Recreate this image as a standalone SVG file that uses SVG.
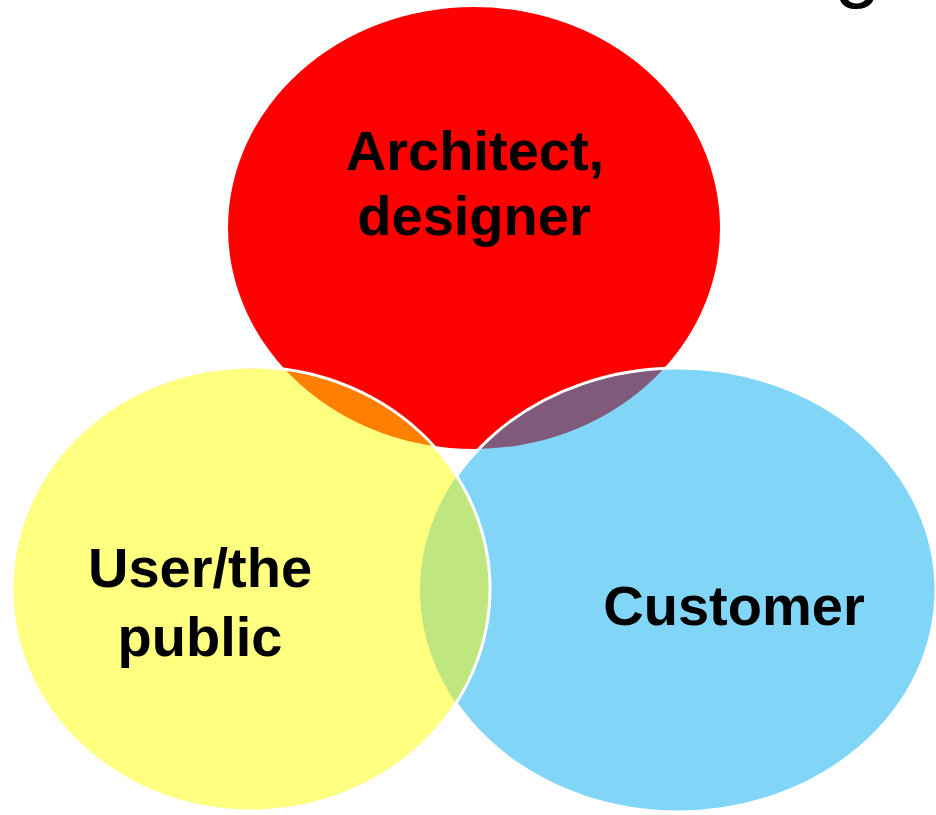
<svg xmlns="http://www.w3.org/2000/svg" width="936" height="815" viewBox="0 0 936 815">
  <style>
    .label { font-family: "Liberation Sans", Arial, sans-serif; font-weight: bold; font-size: 56px; fill: #000; text-anchor: middle; }
    .edge { fill: none; stroke: #fff; stroke-width: 3; }
  </style>
  <defs>
    <ellipse id="shape-red" cx="474" cy="228" rx="246" ry="221"/>
    <ellipse id="shape-yellow" cx="251" cy="589" rx="239" ry="222"/>
    <ellipse id="shape-blue" cx="678" cy="590" rx="258" ry="222"/>
    <clipPath id="clip-red"><use href="#shape-red"/></clipPath>
    <clipPath id="clip-yellow"><use href="#shape-yellow"/></clipPath>
    <clipPath id="clip-blue"><use href="#shape-blue"/></clipPath>
  </defs>
  <rect width="936" height="815" fill="#fff"/>

  <!-- tail of a heading letter running off the top edge -->
  <text x="834" y="-8" font-family="Liberation Sans, Arial, sans-serif" font-size="84" fill="#000">g</text>

  <g id="architect">
    <use href="#shape-red" fill="#FF0000"/>
  </g>

  <g id="customer">
    <use href="#shape-blue" fill="#81D5F7"/>
    <!-- overlap with architect -->
    <g clip-path="url(#clip-blue)"><use href="#shape-red" fill="#805A7B"/></g>
    <use href="#shape-blue" class="edge"/>
  </g>

  <g id="user">
    <use href="#shape-yellow" fill="#FFFF80"/>
    <!-- overlaps with architect and customer -->
    <g clip-path="url(#clip-yellow)"><use href="#shape-red" fill="#FF8000"/></g>
    <g clip-path="url(#clip-yellow)"><use href="#shape-blue" fill="#C0E680"/></g>
    <use href="#shape-yellow" class="edge"/>
  </g>

  <g id="labels">
    <text class="label" x="475" y="170">Architect,</text>
    <text class="label" x="474" y="235">designer</text>
    <text class="label" x="200" y="587">User/the</text>
    <text class="label" x="200" y="656">public</text>
    <text class="label" x="734" y="625">Customer</text>
  </g>
</svg>
